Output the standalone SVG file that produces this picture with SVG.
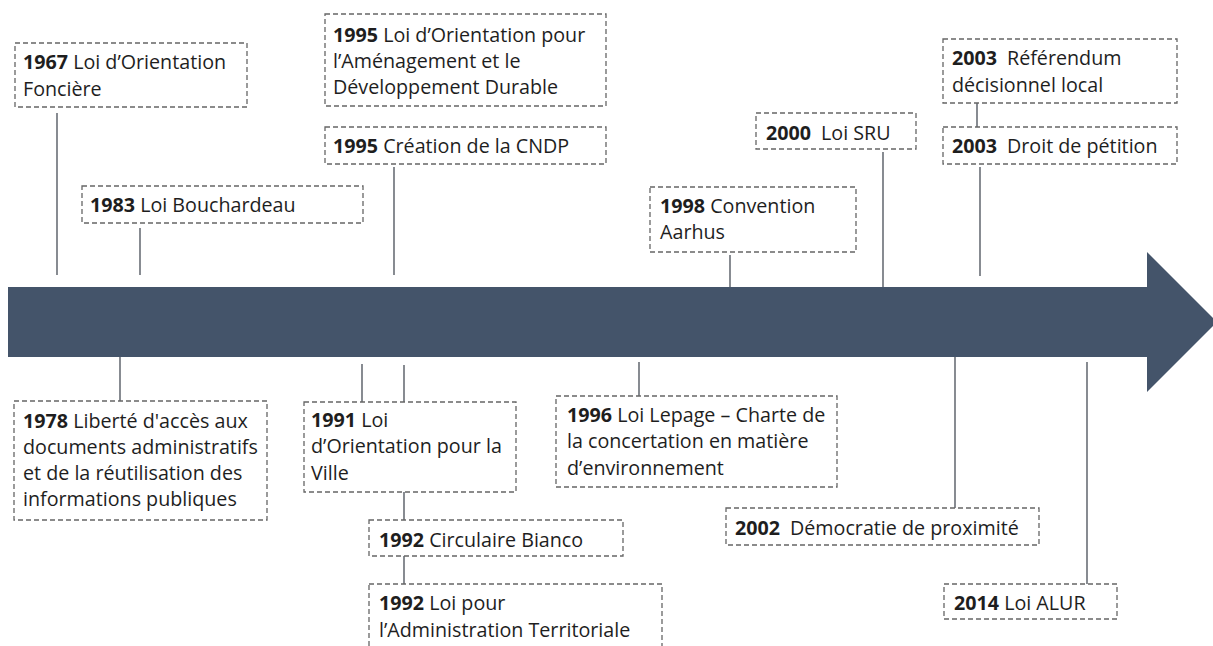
<svg xmlns="http://www.w3.org/2000/svg" width="1213" height="646" viewBox="0 0 1213 646">
<style>
.box{fill:#ffffff;stroke:#666666;stroke-width:1.3;stroke-dasharray:5 3}
.t{font-family:"Open Sans",Lato,"Liberation Sans",sans-serif;font-size:19.7px;fill:#1e1e1e}
.y{font-weight:bold}
.c{stroke:#555b63;stroke-width:1.4;fill:none}
</style>
<rect width="1213" height="646" fill="#ffffff"/>
<g id="timeline-arrow">
<path d="M8 287 H1147 V252 L1217 322 L1147 392 V357 H8 Z" fill="#44546A"/>
</g>
<g id="connectors">
<line class="c" x1="57" y1="113" x2="57" y2="275"/>
<line class="c" x1="140" y1="228" x2="140" y2="275"/>
<line class="c" x1="394" y1="167" x2="394" y2="275"/>
<line class="c" x1="730" y1="255" x2="730" y2="287"/>
<line class="c" x1="883" y1="152" x2="883" y2="287"/>
<line class="c" x1="980" y1="167" x2="980" y2="276"/>
<line class="c" x1="977" y1="103" x2="977" y2="127"/>
<line class="c" x1="120" y1="357" x2="120" y2="401"/>
<line class="c" x1="362" y1="364" x2="362" y2="402"/>
<line class="c" x1="404" y1="365" x2="404" y2="402"/>
<line class="c" x1="639" y1="362" x2="639" y2="396"/>
<line class="c" x1="955" y1="357" x2="955" y2="508"/>
<line class="c" x1="1087" y1="362" x2="1087" y2="584"/>
<line class="c" x1="404" y1="492" x2="404" y2="520"/>
<line class="c" x1="404" y1="556" x2="404" y2="584"/>
</g>
<g id="n1967">
<rect class="box" x="15" y="43" width="232" height="64"/>
<text class="t" x="23" y="69"><tspan class="y">1967</tspan> Loi d’Orientation</text>
<text class="t" x="23" y="96">Foncière</text>
</g>
<g id="n1983">
<rect class="box" x="82" y="186" width="281" height="37"/>
<text class="t" x="90" y="212"><tspan class="y">1983</tspan> Loi Bouchardeau</text>
</g>
<g id="n1995a">
<rect class="box" x="325" y="14" width="281" height="92"/>
<text class="t" x="333" y="42"><tspan class="y">1995</tspan> Loi d’Orientation pour</text>
<text class="t" x="333" y="68">l’Aménagement et le</text>
<text class="t" x="333" y="94">Développement Durable</text>
</g>
<g id="n1995b">
<rect class="box" x="325" y="127" width="281" height="37"/>
<text class="t" x="333" y="153"><tspan class="y">1995</tspan> Création de la CNDP</text>
</g>
<g id="n1998">
<rect class="box" x="650" y="187" width="206" height="65"/>
<text class="t" x="660" y="213"><tspan class="y">1998</tspan> Convention</text>
<text class="t" x="660" y="239">Aarhus</text>
</g>
<g id="n2000">
<rect class="box" x="756" y="113" width="160" height="36"/>
<text class="t" x="766" y="140"><tspan class="y">2000</tspan><tspan dx="10">Loi SRU</tspan></text>
</g>
<g id="n2003a">
<rect class="box" x="943" y="39" width="234" height="64"/>
<text class="t" x="952" y="65"><tspan class="y">2003</tspan><tspan dx="10">Référendum</tspan></text>
<text class="t" x="952" y="92">décisionnel local</text>
</g>
<g id="n2003b">
<rect class="box" x="943" y="127" width="234" height="37"/>
<text class="t" x="952" y="153"><tspan class="y">2003</tspan><tspan dx="10">Droit de pétition</tspan></text>
</g>
<g id="n1978">
<rect class="box" x="14" y="401" width="253" height="119"/>
<text class="t" x="23" y="428"><tspan class="y">1978</tspan> Liberté d'accès aux</text>
<text class="t" x="23" y="454">documents administratifs</text>
<text class="t" x="23" y="480">et de la réutilisation des</text>
<text class="t" x="23" y="506">informations publiques</text>
</g>
<g id="n1991">
<rect class="box" x="304" y="402" width="212" height="90"/>
<text class="t" x="311" y="427"><tspan class="y">1991</tspan> Loi</text>
<text class="t" x="311" y="453">d’Orientation pour la</text>
<text class="t" x="311" y="480">Ville</text>
</g>
<g id="n1996">
<rect class="box" x="556" y="396" width="281" height="91"/>
<text class="t" x="567" y="422"><tspan class="y">1996</tspan> Loi Lepage – Charte de</text>
<text class="t" x="567" y="448">la concertation en matière</text>
<text class="t" x="567" y="475">d’environnement</text>
</g>
<g id="n1992a">
<rect class="box" x="369" y="520" width="254" height="36"/>
<text class="t" x="379" y="547"><tspan class="y">1992</tspan> Circulaire Bianco</text>
</g>
<g id="n1992b">
<rect class="box" x="369" y="584" width="293" height="70"/>
<text class="t" x="379" y="610"><tspan class="y">1992</tspan> Loi pour</text>
<text class="t" x="379" y="637">l’Administration Territoriale</text>
</g>
<g id="n2002">
<rect class="box" x="726" y="508" width="313" height="37"/>
<text class="t" x="735" y="535"><tspan class="y">2002</tspan><tspan dx="10">Démocratie de proximité</tspan></text>
</g>
<g id="n2014">
<rect class="box" x="944" y="584" width="173" height="35"/>
<text class="t" x="954" y="610"><tspan class="y">2014</tspan> Loi ALUR</text>
</g>
</svg>
